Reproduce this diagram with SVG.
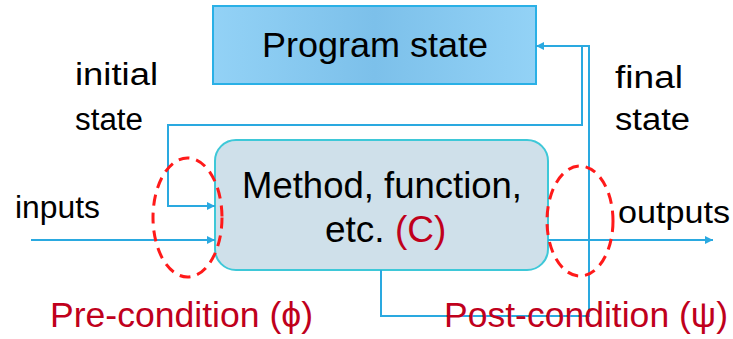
<svg xmlns="http://www.w3.org/2000/svg" width="733" height="339" viewBox="0 0 733 339">
<style>
.lbl{font-family:"Liberation Sans",Arial,sans-serif;font-size:31px;fill:#000}
.node{font-family:"Liberation Sans",Arial,sans-serif;fill:#000}
.red{fill:#c0001c}
.conn{fill:none;stroke:#2aa9e0;stroke-width:2}
.cond{fill:none;stroke:#ff1a1a;stroke-width:3;stroke-dasharray:11 7}
.cap{font-family:"Liberation Sans",Arial,sans-serif;font-size:35px;fill:#c0001c}
</style>
<defs>
<linearGradient id="g1" x1="0" y1="0" x2="1" y2="0">
<stop offset="0" stop-color="#93d2f6"/>
<stop offset="0.5" stop-color="#7cc0ea"/>
<stop offset="1" stop-color="#93d2f6"/>
</linearGradient>
<marker id="ah" viewBox="0 0 10 10" refX="10" refY="5" markerWidth="8" markerHeight="8" markerUnits="userSpaceOnUse" orient="auto">
<path d="M0,0 L10,5 L0,10 z" fill="#2aa9e0"/>
</marker>
</defs>
<g id="program-state">
<rect x="213" y="6" width="323" height="78" fill="url(#g1)" stroke="#2ab0e6" stroke-width="2"/>
<text class="node" x="262" y="57" font-size="35" textLength="226" lengthAdjust="spacingAndGlyphs">Program state</text>
</g>
<g id="method">
<rect x="215" y="140" width="333" height="130" rx="21" fill="#cfe0ea" stroke="#3ec8d8" stroke-width="2"/>
<text class="node" x="242" y="198" font-size="37" textLength="280" lengthAdjust="spacingAndGlyphs">Method, function,</text>
<text class="node" x="325" y="242" font-size="37">etc. <tspan class="red">(C)</tspan></text>
</g>
<g id="connectors">
<path class="conn" d="M536,46 L582,46 L582,125 L168,125 L168,206 L215,206" marker-end="url(#ah)"/>
<path class="conn" d="M381,270 L381,316 L589,316 L589,46 L536,46" marker-end="url(#ah)"/>
<path class="conn" d="M31,240 L215,240" marker-end="url(#ah)"/>
<path class="conn" d="M548,240 L713,240" marker-end="url(#ah)"/>
</g>
<g id="pre-condition">
<ellipse class="cond" cx="187.5" cy="217.5" rx="34.5" ry="59.5"/>
<text class="cap" x="50" y="327" textLength="263" lengthAdjust="spacingAndGlyphs">Pre-condition (ϕ)</text>
</g>
<g id="post-condition">
<ellipse class="cond" cx="580" cy="221" rx="33" ry="55"/>
<text class="cap" x="444" y="327" textLength="284" lengthAdjust="spacingAndGlyphs">Post-condition (ψ)</text>
</g>
<g id="labels">
<text class="lbl" x="75" y="85" textLength="83" lengthAdjust="spacingAndGlyphs">initial</text>
<text class="lbl" x="75" y="130" textLength="68" lengthAdjust="spacingAndGlyphs">state</text>
<text class="lbl" x="615" y="88" textLength="68" lengthAdjust="spacingAndGlyphs">final</text>
<text class="lbl" x="615" y="130" textLength="75" lengthAdjust="spacingAndGlyphs">state</text>
<text class="lbl" x="15" y="218" textLength="85" lengthAdjust="spacingAndGlyphs">inputs</text>
<text class="lbl" x="618" y="223" textLength="112" lengthAdjust="spacingAndGlyphs">outputs</text>
</g>
</svg>
